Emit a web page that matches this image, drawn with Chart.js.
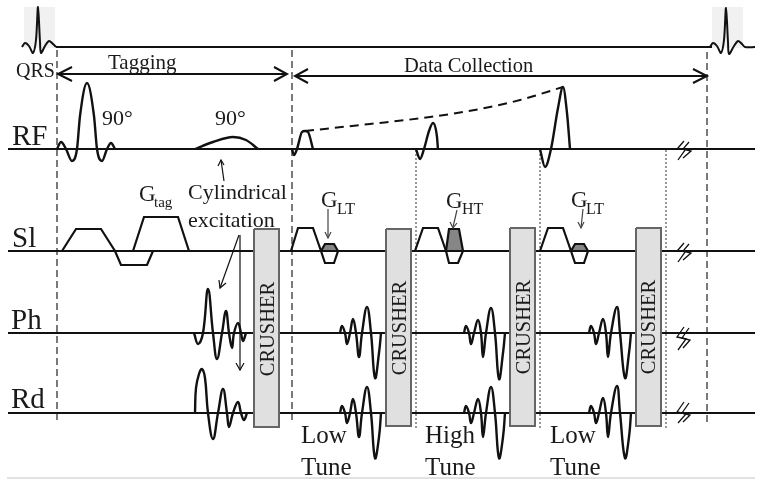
<!DOCTYPE html>
<html>
<head>
<meta charset="utf-8">
<style>
  html, body { margin: 0; padding: 0; background: #fff; }
  canvas { display: block; }
</style>
<script src="https://cdn.jsdelivr.net/npm/chart.js@4/dist/chart.umd.min.js"></script>
</head>
<body>
<canvas id="sequence-chart" width="764" height="485"></canvas>
<script>

// Channel baselines
const ecgLine = [[56, 47], [712, 47]];
const rfLine = [[8, 149], [755, 149]];
const slLine = [[8, 251], [755, 251]];
const phLine = [[8, 333], [755, 333]];
const rdLine = [[8, 413], [755, 413]];
const bottomRule = [[7, 478], [755, 478]];

// ECG
const qrsLeft = [[22, 47], [25, 43], [29, 46], [33, 53], [36, 40], [38, 7], [40, 42], [41, 53], [45, 46], [49, 41], [53, 44], [56, 47]];
const qrsRight = [[710, 47], [713, 43], [717, 46], [721, 53], [724, 40], [726, 8], [728, 42], [729, 54], [734, 46], [738, 41], [742, 44], [745, 47], [755, 47]];
const qrsShadeLeft = [[24, 7], [55, 7], [55, 48], [24, 48], [24, 7]];
const qrsShadeRight = [[712, 7], [743, 7], [743, 48], [712, 48], [712, 7]];

// Timing lines
const dashedVerticals = [
  [[57, 50], [57, 421]],
  [[292, 50], [292, 422]],
  [[707, 52], [707, 422]]
];
const dottedVerticals = [
  [[416, 150], [416, 430]],
  [[540, 150], [540, 430]],
  [[666, 150], [666, 430]]
];

// Span arrows
const spanArrows = [
  [[58, 74], [287, 74]],
  [[72, 67], [58, 74], [72, 81]],
  [[274, 67], [287, 74], [274, 81]],
  [[295, 76], [707, 76]],
  [[308, 69], [295, 76], [308, 83]],
  [[693, 69], [707, 76], [693, 83]]
];

// RF pulses
const rfTagPulse = [[57, 149], [61, 142], [66, 149], [72, 161], [77, 149], [80, 116], [87, 83], [94, 116], [97, 149], [102, 161], [107, 149], [111, 143], [115, 149]];
const rfCylPulse = [[195, 149], [213, 142], [233, 137], [246, 140], [258, 149]];
const rfPulseA = [[292, 149], [294, 155], [297, 149], [302, 132], [305, 131], [308, 132], [313, 149]];
const rfPulseB = [[416, 149], [420, 159], [424, 149], [429, 131], [433, 123], [437, 137], [438, 150]];
const rfPulseC = [[540, 149], [545, 167], [551, 149], [558, 108], [563, 87], [567, 113], [570, 149]];
const rfEnvelope = [[305, 131], [370, 124], [430, 117], [480, 109], [520, 100], [563, 87]];

// Slice gradients
const slTagA = [[62, 251], [76, 229], [101, 229], [115, 251], [121, 265], [147, 265], [153, 251]];
const slTagB = [[133, 251], [144, 217], [178, 217], [189, 251]];
const slTrapA = [[291, 251], [298, 228], [313, 228], [321, 251]];
const slTrapB = [[415, 251], [423, 228], [438, 228], [446, 251]];
const slTrapC = [[540, 251], [548, 228], [563, 228], [571, 251]];
const slHexA = [[321, 251], [325, 244], [334, 244], [338, 251], [334, 263], [325, 263], [321, 251]];
const slHexB = [[446, 251], [449, 229], [459, 229], [463, 251], [458, 263], [449, 263], [446, 251]];
const slHexC = [[571, 251], [575, 244], [584, 244], [588, 251], [584, 263], [575, 263], [571, 251]];
const slFillA = [[321, 251], [325, 244], [334, 244], [338, 251], [321, 251]];
const slFillB = [[446, 251], [449, 229], [459, 229], [463, 251], [446, 251]];
const slFillC = [[571, 251], [575, 244], [584, 244], [588, 251], [571, 251]];

// Cylindrical excitation on Ph and Rd
const phCylWave = [[194, 333], [198, 344], [203, 333], [208, 289], [213, 333], [217, 359], [222, 333], [226, 311], [229, 333], [232, 348], [234, 333], [238, 323], [241, 333], [243, 341], [246, 333]];
const rdCylWave = [[195, 413], [196, 388], [199, 374], [202, 369], [205, 378], [208, 413], [213, 439], [218, 413], [223, 389], [227, 413], [229, 427], [233, 413], [238, 402], [241, 413], [244, 420], [247, 413]];

// Readouts on Ph and Rd
const phReadA = [[340, 333], [342, 326], [345, 333], [347, 344], [350, 333], [353, 319], [356, 333], [359, 357], [362, 333], [367, 307], [371, 333], [375, 378], [379, 353], [381, 333]];
const rdReadA = [[340, 413], [342, 406], [345, 413], [347, 423], [350, 413], [353, 399], [356, 413], [359, 437], [362, 413], [367, 387], [371, 413], [375, 458], [379, 437], [381, 413]];
const phReadB = [[464, 333], [466, 326], [469, 333], [471, 344], [474, 333], [478, 320], [481, 333], [483, 357], [486, 333], [491, 308], [495, 333], [499, 379], [503, 353], [505, 333]];
const rdReadB = [[464, 413], [466, 406], [469, 413], [471, 423], [474, 413], [478, 399], [481, 413], [483, 437], [486, 413], [491, 387], [495, 413], [499, 458], [503, 437], [505, 413]];
const phReadC = [[589, 333], [591, 326], [594, 333], [596, 344], [599, 333], [603, 319], [606, 333], [608, 357], [611, 333], [617, 307], [620, 333], [625, 378], [629, 353], [631, 333]];
const rdReadC = [[589, 413], [591, 406], [594, 413], [596, 423], [599, 413], [603, 398], [606, 413], [608, 437], [611, 413], [617, 386], [620, 413], [625, 458], [629, 437], [631, 413]];

// Crusher boxes
const crusherA = [[254, 229], [279, 229], [279, 427], [254, 427], [254, 229]];
const crusherB = [[386, 229], [411, 229], [411, 426], [386, 426], [386, 229]];
const crusherC = [[510, 228], [535, 228], [535, 426], [510, 426], [510, 228]];
const crusherD = [[636, 228], [661, 228], [661, 426], [636, 426], [636, 228]];

// Break marks
const breakMarks = [
  [[684, 141], [678, 148], [685, 150], [678, 160]],
  [[689, 142], [683, 149], [691, 151], [683, 158]],
  [[684, 243], [678, 250], [685, 252], [678, 262]],
  [[689, 244], [683, 251], [691, 253], [683, 260]],
  [[684, 327], [677, 337], [686, 339], [678, 350]],
  [[689, 328], [682, 338], [690, 340], [683, 348]],
  [[684, 402], [677, 412], [686, 414], [678, 423]],
  [[689, 403], [682, 413], [690, 415], [683, 422]]
];

// Annotation arrows
const blackArrows = [
  [[224, 181], [221, 160]],
  [[218, 166], [221, 160], [224, 165]],
  [[239, 235], [220, 288]],
  [[219, 280], [220, 288], [226, 283]],
  [[240, 235], [240, 370]],
  [[236, 363], [240, 370], [244, 363]]
];
const grayArrows = [
  [[328, 209], [328, 238]],
  [[325, 232], [328, 238], [331, 232]],
  [[457, 210], [453, 227]],
  [[450, 222], [453, 228], [457, 223]],
  [[583, 209], [581, 228]],
  [[578, 222], [581, 228], [584, 222]]
];

// Text, x and y on the same scales
const labelTexts = ['QRS', 'Tagging', 'Data Collection', '90°', '90°', 'RF', 'Sl', 'Ph', 'Rd', 'Cylindrical', 'excitation', 'Low', 'Tune', 'High', 'Tune', 'Low', 'Tune'];
const labelX = [16, 108, 404, 102, 215, 12, 12, 11, 11, 188, 188, 301, 301, 425, 425, 550, 550];
const labelY = [77, 69, 72, 125, 125, 145, 247, 329, 408, 199, 227, 443, 475, 443, 475, 443, 475];
const labelSizes = [20, 21, 20.5, 22, 22, 29, 29, 29, 29, 22, 22, 25, 25, 25, 25, 25, 25];

const gradientNames = ['tag', 'LT', 'HT', 'LT'];
const gradientX = [139, 321, 446, 571];
const gradientY = [201, 207, 208, 207];
const gradientSubOffset = [15, 16, 16, 15];
const gradientSubDrop = [6, 7, 6, 7];
const gradientSubSize = [15, 16, 16, 16];

const crusherCentersX = [269, 401, 525, 650];
const crusherCentersY = [329, 328, 327, 327];

function toPoints(list) {
  return list.map(p => ({ x: p[0], y: p[1] }));
}

function stroke(list, width, extra) {
  return Object.assign({
    data: toPoints(list),
    showLine: true,
    pointRadius: 0,
    borderColor: '#111',
    borderWidth: width,
    backgroundColor: 'transparent',
    fill: false
  }, extra);
}

function curve(list) {
  return stroke(list, 2.4, { cubicInterpolationMode: 'monotone' });
}

function wave(list) {
  return stroke(list, 2.4, { tension: 0.42 });
}

function area(list, color, edge, width) {
  return stroke(list, width, { fill: 'shape', backgroundColor: color, borderColor: edge });
}

// Listed in paint order, reversed below since Chart.js paints the first dataset last
const datasets = [];
[qrsShadeLeft, qrsShadeRight].forEach(s => datasets.push(area(s, '#f1f1f1', '#f1f1f1', 0)));
datasets.push(stroke(bottomRule, 1, { borderColor: '#c4c4c4' }));
dashedVerticals.forEach(l => datasets.push(stroke(l, 1.2, { borderColor: '#222', borderDash: [7, 4] })));
dottedVerticals.forEach(l => datasets.push(stroke(l, 1, { borderColor: '#333', borderDash: [2, 2] })));
[slFillA, slFillB, slFillC].forEach(s => datasets.push(area(s, '#868686', '#868686', 0)));
[ecgLine, rfLine, slLine, phLine, rdLine].forEach(l => datasets.push(stroke(l, 2)));
[qrsLeft, qrsRight].forEach(c => datasets.push(stroke(c, 2, { tension: 0.3 })));
[rfTagPulse, rfCylPulse, rfPulseA, rfPulseB, rfPulseC].forEach(c => datasets.push(curve(c)));
datasets.push(stroke(rfEnvelope, 2, { borderDash: [9, 6], cubicInterpolationMode: 'monotone' }));
[slTagA, slTagB, slTrapA, slTrapB, slTrapC, slHexA, slHexB, slHexC].forEach(s => datasets.push(stroke(s, 2.2)));
[phCylWave, rdCylWave, phReadA, rdReadA, phReadB, rdReadB, phReadC, rdReadC].forEach(c => datasets.push(wave(c)));
spanArrows.forEach(a => datasets.push(stroke(a, 2)));
blackArrows.forEach(a => datasets.push(stroke(a, 1.2)));
grayArrows.forEach(a => datasets.push(stroke(a, 1.2, { borderColor: '#444' })));
[crusherA, crusherB, crusherC, crusherD].forEach(b => datasets.push(area(b, '#e0e0e0', '#666', 2)));
breakMarks.forEach(m => datasets.push(stroke(m, 1.3)));
datasets.reverse();

const FONT = '"Liberation Serif", "Times New Roman", serif';

const textPlugin = {
  id: 'diagramText',
  afterDatasetsDraw(chart) {
    const ctx = chart.ctx;
    const sx = chart.scales.x;
    const sy = chart.scales.y;
    ctx.save();
    ctx.fillStyle = '#1a1a1a';
    ctx.textBaseline = 'alphabetic';
    ctx.textAlign = 'left';

    labelTexts.forEach((text, i) => {
      ctx.font = labelSizes[i] + 'px ' + FONT;
      ctx.fillText(text, sx.getPixelForValue(labelX[i]), sy.getPixelForValue(labelY[i]));
    });

    gradientNames.forEach((name, i) => {
      const px = sx.getPixelForValue(gradientX[i]);
      const py = sy.getPixelForValue(gradientY[i]);
      ctx.font = '23px ' + FONT;
      ctx.fillText('G', px, py);
      ctx.font = gradientSubSize[i] + 'px ' + FONT;
      ctx.fillText(name, px + gradientSubOffset[i], py + gradientSubDrop[i]);
    });

    // Crusher labels read bottom to top
    ctx.font = '20.5px ' + FONT;
    ctx.textAlign = 'center';
    ctx.textBaseline = 'middle';
    crusherCentersX.forEach((cx, i) => {
      ctx.save();
      ctx.translate(sx.getPixelForValue(cx), sy.getPixelForValue(crusherCentersY[i]));
      ctx.rotate(-Math.PI / 2);
      ctx.fillText('CRUSHER', 0, 0);
      ctx.restore();
    });
    ctx.restore();
  }
};

new Chart(document.getElementById('sequence-chart').getContext('2d'), {
  type: 'scatter',
  data: { datasets: datasets },
  options: {
    responsive: false,
    animation: false,
    layout: { padding: 0 },
    plugins: { legend: { display: false }, tooltip: { enabled: false } },
    scales: {
      x: { type: 'linear', min: 0, max: 764, display: false },
      y: { type: 'linear', min: 0, max: 485, reverse: true, display: false }
    }
  },
  plugins: [textPlugin]
});
</script>
</body>
</html>
